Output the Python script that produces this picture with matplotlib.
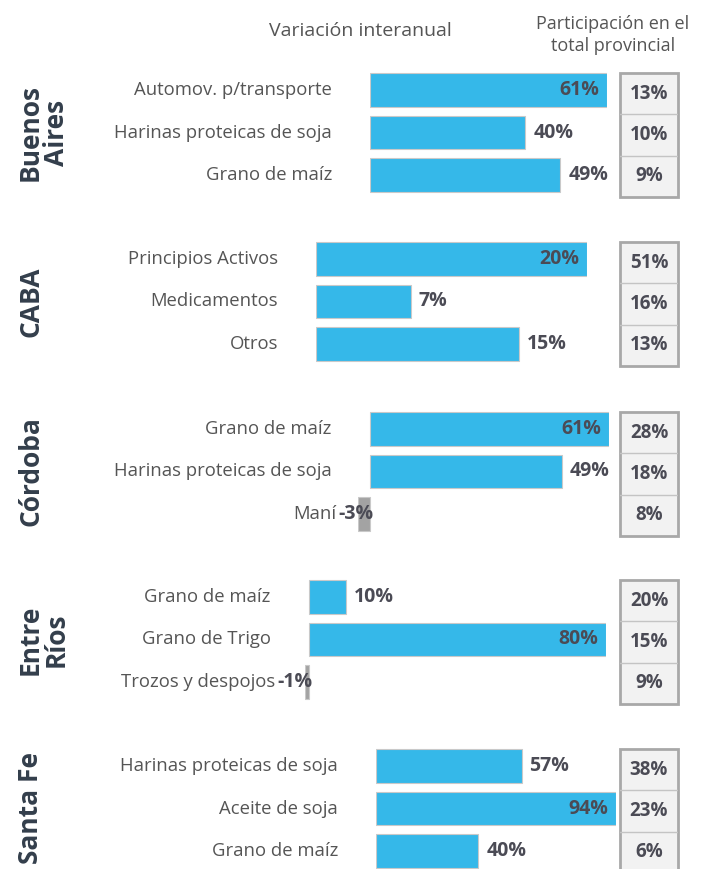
import matplotlib
matplotlib.use("Agg")
import matplotlib.pyplot as plt
from matplotlib.patches import Rectangle

# data
provinces = ["Buenos\nAires", "CABA", "Córdoba", "Entre\nRíos", "Santa Fe"]
products = [
    ["Automov. p/transporte", "Harinas proteicas de soja", "Grano de maíz"],
    ["Principios Activos", "Medicamentos", "Otros"],
    ["Grano de maíz", "Harinas proteicas de soja", "Maní"],
    ["Grano de maíz", "Grano de Trigo", "Trozos y despojos"],
    ["Harinas proteicas de soja", "Aceite de soja", "Grano de maíz"],
]
variacion = [[61, 40, 49], [20, 7, 15], [61, 49, -3], [10, 80, -1], [57, 94, 40]]
participacion = [[13, 10, 9], [51, 16, 13], [28, 18, 8], [20, 15, 9], [38, 23, 6]]

W, H = 710, 869
# pixel layout of each block
bar_left = [370, 316, 358, 305, 376]
bar_right = [607, 587, 609, 606, 616]
row_first = [90, 259, 429, 597, 766]
row_step = 42.5
box_left, box_right = 620, 678

BLUE = "#35b8e9"
GREY_BAR = "#a3a3a3"
TXT = "#555555"
VAL = "#4b4b55"
TITLE = "#333e4b"

plt.rcParams["font.family"] = ["Open Sans", "DejaVu Sans"]


def rect(l, t, r, b):
    return [l / W, 1 - b / H, (r - l) / W, (b - t) / H]


fig = plt.figure(figsize=(W / 100, H / 100), dpi=100)

fig.text(360 / W, 1 - 31 / H, "Variación interanual", ha="center", va="center",
         fontsize=14, color=TXT)
fig.text(613 / W, 1 - 35 / H, "Participación en el\ntotal provincial", ha="center",
         va="center", fontsize=13, color=TXT, linespacing=1.35)

for i, prov in enumerate(provinces):
    vals = variacion[i]
    top = row_first[i] - row_step / 2
    bottom = row_first[i] + 2 * row_step + row_step / 2
    ax = fig.add_axes(rect(bar_left[i], top, bar_right[i], bottom))
    lo, hi = min(0, min(vals)), max(vals)
    ax.set_xlim(lo, hi)
    ax.set_ylim(2.5, -0.5)
    ax.axis("off")
    colors = [BLUE if v >= 0 else GREY_BAR for v in vals]
    ax.barh(range(3), vals, height=0.78, color=colors, edgecolor="#c9c9c9", linewidth=0.8)

    for j, (name, v) in enumerate(zip(products[i], vals)):
        if v < 0:
            t = ax.annotate(f"{v}%", xy=(0, j), xytext=(4, 0), textcoords="offset pixels",
                            ha="right", va="center", fontsize=14, fontweight="bold",
                            color=VAL, annotation_clip=False)
            ax.annotate(name, xy=(0, 0.5), xycoords=t, xytext=(-2, 0),
                        textcoords="offset pixels", ha="right", va="center",
                        fontsize=13.3, color=TXT)
            continue
        if v == hi:
            ax.annotate(f"{v}%", xy=(v, j), xytext=(-8, 0), textcoords="offset pixels",
                        ha="right", va="center", fontsize=14, fontweight="bold",
                        color=VAL, annotation_clip=False)
        else:
            ax.annotate(f"{v}%", xy=(v, j), xytext=(8, 0), textcoords="offset pixels",
                        ha="left", va="center", fontsize=14, fontweight="bold",
                        color=VAL, annotation_clip=False)
        ax.annotate(name, xy=(0, j), xytext=(-38, 0), textcoords="offset pixels",
                    ha="right", va="center", fontsize=13.3, color=TXT,
                    annotation_clip=False)

    # participation box
    bx = fig.add_axes(rect(box_left, row_first[i] - 17, box_right,
                           row_first[i] + 2 * row_step + 22))
    bx.set_xlim(0, 1)
    bx.set_ylim(3, 0)
    bx.axis("off")
    bx.add_patch(Rectangle((0, 0), 1, 3, facecolor="#f2f2f2", edgecolor="#a8a8a8",
                           linewidth=2, clip_on=False))
    for k in (1, 2):
        bx.plot([0, 1], [k, k], color="#c4c4c4", linewidth=1)
    for j, p in enumerate(participacion[i]):
        bx.text(0.5, j + 0.5, f"{p}%", ha="center", va="center", fontsize=13.5,
                fontweight="bold", color=VAL)

    # province title
    fig.text(17 / W, 1 - (row_first[i] + row_step) / H, prov, rotation=90,
             ha="left", va="center", fontsize=19, fontweight="bold", color=TITLE,
             multialignment="center", linespacing=0.95)

fig.savefig("out.png", dpi=100)
